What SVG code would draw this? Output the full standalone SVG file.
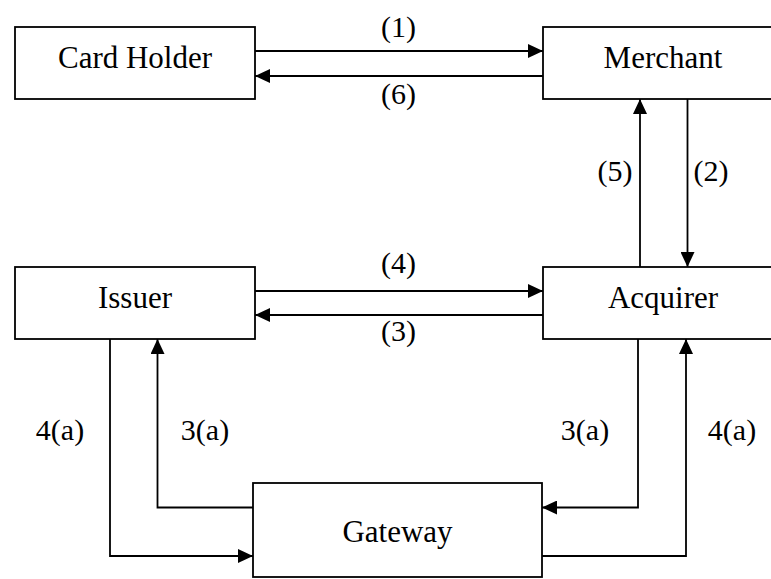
<svg xmlns="http://www.w3.org/2000/svg" width="771" height="579" viewBox="0 0 771 579">
  <style>
    .box { fill: #ffffff; stroke: #000000; stroke-width: 1.8; }
    .txt { font-size: 31px; fill: #000000; text-anchor: middle; }
    .lbl { font-size: 30px; fill: #000000; text-anchor: middle; }
    .wire { fill: none; stroke: #000000; stroke-width: 1.8; }
    .arr { marker-end: url(#head); }
  </style>
  <defs>
    <marker id="head" markerUnits="userSpaceOnUse" markerWidth="16" markerHeight="14" refX="15" refY="7" orient="auto">
      <path d="M0,0 L15,7 L0,14 Z" fill="#000000"/>
    </marker>
  </defs>
  <rect width="771" height="579" fill="#ffffff"/>

  <g font-family="Liberation Serif, DejaVu Serif, serif">
  <g id="card-holder">
    <rect class="box" x="15" y="27" width="240" height="72"/>
    <text class="txt" x="135" y="68">Card Holder</text>
  </g>
  <g id="merchant">
    <rect class="box" x="543" y="27" width="240" height="72"/>
    <text class="txt" x="663" y="68">Merchant</text>
  </g>
  <g id="issuer">
    <rect class="box" x="15" y="267" width="240" height="72"/>
    <text class="txt" x="135" y="308">Issuer</text>
  </g>
  <g id="acquirer">
    <rect class="box" x="543" y="267" width="240" height="72"/>
    <text class="txt" x="663" y="308">Acquirer</text>
  </g>
  <g id="gateway">
    <rect class="box" x="253" y="483" width="289" height="94"/>
    <text class="txt" x="397.5" y="542">Gateway</text>
  </g>

  <g id="connectors">
    <!-- Card Holder <-> Merchant -->
    <path class="wire arr" d="M255,51 H543"/>
    <path class="wire arr" d="M543,76 H255"/>
    <!-- Merchant <-> Acquirer -->
    <path class="wire arr" d="M687.5,99 V267"/>
    <path class="wire arr" d="M640,267 V99"/>
    <!-- Issuer <-> Acquirer -->
    <path class="wire arr" d="M255,291 H543"/>
    <path class="wire arr" d="M543,315 H255"/>
    <!-- Issuer <-> Gateway -->
    <path class="wire arr" d="M110,339 V556 H253"/>
    <path class="wire arr" d="M253,507.5 H157.5 V339"/>
    <!-- Acquirer <-> Gateway -->
    <path class="wire arr" d="M638,339 V507.5 H542"/>
    <path class="wire arr" d="M542,556 H686 V339"/>
  </g>

  <g id="labels">
    <text class="lbl" x="398.5" y="37">(1)</text>
    <text class="lbl" x="398.5" y="104">(6)</text>
    <text class="lbl" x="615" y="181">(5)</text>
    <text class="lbl" x="711" y="181">(2)</text>
    <text class="lbl" x="398.5" y="273">(4)</text>
    <text class="lbl" x="398.5" y="341">(3)</text>
    <text class="lbl" x="60" y="440">4(a)</text>
    <text class="lbl" x="205" y="440">3(a)</text>
    <text class="lbl" x="585" y="440">3(a)</text>
    <text class="lbl" x="732" y="440">4(a)</text>
  </g>
  </g>
</svg>
